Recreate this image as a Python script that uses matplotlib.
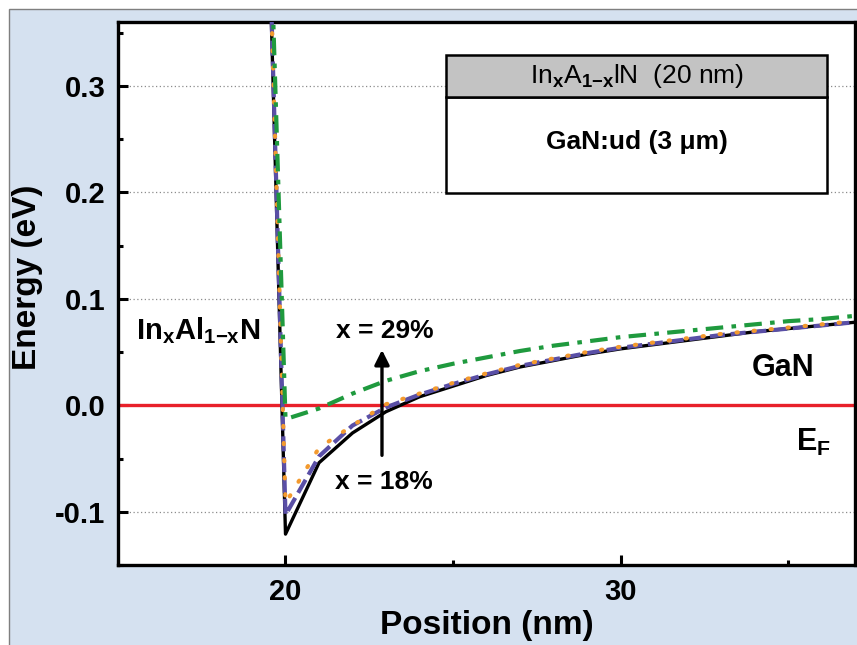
import matplotlib
matplotlib.use("Agg")
import matplotlib.pyplot as plt
from matplotlib.patches import Rectangle
from matplotlib.ticker import MultipleLocator

plt.rcParams.update(
    {
        "font.family": ["Liberation Sans", "DejaVu Sans"],
        "font.weight": "bold",
        "mathtext.fontset": "custom",
        "mathtext.rm": "Liberation Sans",
        "mathtext.bf": "Liberation Sans:bold",
        "mathtext.it": "Liberation Sans:italic",
    }
)

# position grid (nm)
position = [19.5, 20, 21, 22, 23, 24, 25, 26, 27, 28, 29, 30, 31, 32, 33, 34, 35, 36, 37]

# conduction band edge for different In contents (eV)
x18 = [0.45, -0.121, -0.054, -0.026, -0.006, 0.008, 0.018, 0.028, 0.036, 0.042, 0.048,
       0.053, 0.057, 0.061, 0.065, 0.069, 0.072, 0.075, 0.078]
x_mid1 = [0.46, -0.103, -0.048, -0.019, -0.002, 0.010, 0.020, 0.029, 0.037, 0.043, 0.049,
          0.054, 0.058, 0.062, 0.066, 0.069, 0.072, 0.075, 0.078]
x_mid2 = [0.46, -0.092, -0.040, -0.019, 0.001, 0.011, 0.021, 0.030, 0.038, 0.044, 0.050,
          0.055, 0.059, 0.063, 0.067, 0.070, 0.073, 0.076, 0.079]
x29 = [0.50, -0.013, -0.003, 0.011, 0.023, 0.032, 0.039, 0.045, 0.051, 0.056, 0.060,
       0.064, 0.067, 0.070, 0.073, 0.076, 0.079, 0.081, 0.084]

fermi_level = 0.0

fig = plt.figure(figsize=(8.57, 6.45), dpi=100, facecolor="white")
fig.add_artist(
    Rectangle((9 / 857, -0.01), 1.0, 1 - 9 / 645 + 0.01, transform=fig.transFigure,
              facecolor="#d5e1f0", edgecolor="#7f7f7f", lw=1.0, zorder=-5)
)
ax = fig.add_axes([118 / 857, 1 - 565 / 645, 737 / 857, 543 / 645])
ax.set_facecolor("white")

ax.axhline(fermi_level, color="#e8202a", lw=2.4, zorder=2)
ax.plot(position, x18, color="black", lw=2.4, zorder=3)
ax.plot(position, x_mid1, color="#5a4fa6", lw=3.0, ls=(0, (3.6, 1.4)), zorder=4)
ax.plot(position, x_mid2, color="#f39a2e", lw=3.0, ls=(0, (0.3, 3.8)),
        dash_capstyle="round", zorder=5)
ax.plot(position, x29, color="#1f9a3e", lw=3.0, ls=(0, (4.2, 2.0, 1.1, 2.0)), zorder=6)

ax.set_xlim(15, 37)
ax.set_ylim(-0.15, 0.36)
ax.set_xticks([20, 30])
ax.set_yticks([-0.1, 0.0, 0.1, 0.2, 0.3])
ax.set_yticklabels(["-0.1", "0.0", "0.1", "0.2", "0.3"])
ax.xaxis.set_minor_locator(MultipleLocator(5))
ax.yaxis.set_minor_locator(MultipleLocator(0.05))
ax.tick_params(which="major", direction="in", length=7, width=2.2, labelsize=21, pad=9)
ax.tick_params(which="minor", direction="in", length=3.5, width=2.2)
for lab in ax.get_xticklabels() + ax.get_yticklabels():
    lab.set_fontweight("bold")
for sp in ax.spines.values():
    sp.set_linewidth(2.4)

ax.grid(axis="y", which="major", ls=(0, (1, 2)), color="#8c8c8c", lw=0.9)
ax.set_axisbelow(True)

ax.set_xlabel("Position (nm)", fontsize=24, fontweight="bold")
ax.set_ylabel("Energy (eV)", fontsize=24, fontweight="bold")
ax.xaxis.set_label_coords(0.5, -0.082)
ax.yaxis.set_label_coords(-0.102, 0.53)

ax.text(17.4, 0.07, r"In$_\mathbf{x}$Al$_\mathbf{1{-}x}$N", fontsize=21, fontweight="bold",
        ha="center", va="center")
ax.text(22.95, 0.070, "x = 29%", fontsize=19, fontweight="bold", ha="center", va="center")
ax.text(22.95, -0.072, "x = 18%", fontsize=19, fontweight="bold", ha="center", va="center")
ax.text(34.85, 0.035, "GaN", fontsize=22, fontweight="bold", ha="center", va="center")
ax.text(35.75, -0.035, r"E$_\mathbf{F}$", fontsize=22, fontweight="bold", ha="center", va="center")
ax.annotate("", xy=(22.88, 0.052), xytext=(22.88, -0.047),
            arrowprops=dict(arrowstyle="-|>", lw=2.4, color="black", mutation_scale=22,
                            shrinkA=0, shrinkB=0), zorder=7)

# layer structure sketch
ax.add_patch(Rectangle((24.8, 0.199), 11.37, 0.091, facecolor="white", edgecolor="black",
                       lw=1.8, zorder=8))
ax.add_patch(Rectangle((24.8, 0.290), 11.37, 0.039, facecolor="#c3c3c3", edgecolor="black",
                       lw=1.8, zorder=8))
ax.text(30.48, 0.3095, r"In$_\mathrm{x}$A$_\mathrm{1{-}x}$lN  (20 nm)", fontsize=19,
        fontweight="normal", ha="center", va="center", zorder=9)
ax.text(30.48, 0.247, "GaN:ud (3 \u03bcm)", fontsize=19, fontweight="bold",
        ha="center", va="center", zorder=9)

fig.savefig("out.png", dpi=100, facecolor="white")
